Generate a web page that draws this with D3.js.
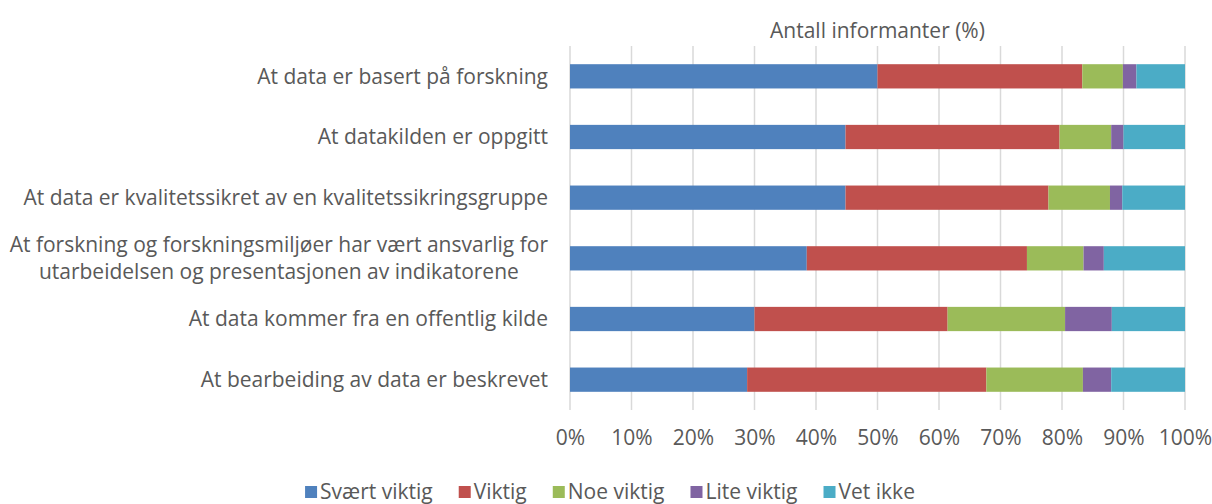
<!DOCTYPE html>
<html>
<head>
<meta charset="utf-8">
<script src="https://cdn.jsdelivr.net/npm/d3@7"></script>
<style>
  body { margin: 0; background: #fff; }
  text { font-family: "Open Sans", Lato, sans-serif; fill: #595959; }
</style>
</head>
<body>
<svg width="1212" height="504"></svg>
<script>
// data (percent of informants)
let categories = [
    "At data er basert på forskning",
    "At datakilden er oppgitt",
    "At data er kvalitetssikret av en kvalitetssikringsgruppe",
    "At forskning og forskningsmiljøer har vært ansvarlig for|utarbeidelsen og presentasjonen av indikatorene",
    "At data kommer fra en offentlig kilde",
    "At bearbeiding av data er beskrevet"
];
let seriesNames = ["Svært viktig", "Viktig", "Noe viktig", "Lite viktig", "Vet ikke"];
let svaertViktig = [50.0, 44.8, 44.8, 38.5, 30.0, 28.8];
let viktig = [33.3, 34.8, 33.0, 35.8, 31.4, 38.9];
let noeViktig = [6.6, 8.4, 10.0, 9.2, 19.1, 15.7];
let liteViktig = [2.2, 2.0, 2.0, 3.3, 7.6, 4.6];
let vetIkke = [7.9, 10.0, 10.2, 13.2, 11.9, 12.0];
let xTicks = [0, 0.1, 0.2, 0.3, 0.4, 0.5, 0.6, 0.7, 0.8, 0.9, 1];
let colors = ["#4F81BD", "#C0504D", "#9BBB59", "#8064A2", "#4BACC6"];
let chartTitle = "Antall informanter (%)";

let fontSize = "21px";
let svg = d3.select("svg");
let margin = { top: 46, left: 570, right: 27, bottom: 94 },
    width = +svg.attr("width") - margin.left - margin.right,
    height = +svg.attr("height") - margin.top - margin.bottom;

let seriesValues = [svaertViktig, viktig, noeViktig, liteViktig, vetIkke];
let rows = categories.map((c, i) => {
    let r = { cat: c };
    seriesNames.forEach((s, j) => r[s] = seriesValues[j][i]);
    return r;
});

let stacked = d3.stack()
    .keys(seriesNames)
    .offset(d3.stackOffsetExpand)(rows);

let x = d3.scaleLinear().domain([0, 1]).range([0, width]);
let y = d3.scaleBand()
    .domain(categories)
    .range([0, height])
    .paddingInner(0.6)
    .paddingOuter(0.3);

let g = svg.append("g")
    .attr("transform", "translate(" + margin.left + "," + margin.top + ")");

// gridlines
g.selectAll(".grid")
    .data(xTicks)
    .enter().append("line")
    .attr("x1", d => x(d)).attr("x2", d => x(d))
    .attr("y1", 0).attr("y2", height)
    .attr("stroke", "#D9D9D9")
    .attr("stroke-width", 1.5);

// bars
g.selectAll(".series")
    .data(stacked)
    .enter().append("g")
    .attr("fill", (d, i) => colors[i])
    .selectAll("rect")
    .data(d => d)
    .enter().append("rect")
    .attr("x", d => x(d[0]))
    .attr("width", d => x(d[1]) - x(d[0]))
    .attr("y", d => y(d.data.cat))
    .attr("height", y.bandwidth());

// x axis labels
let xAxis = g.append("g")
    .attr("transform", "translate(0," + height + ")")
    .call(d3.axisBottom(x).tickValues(xTicks).tickFormat(d3.format(".0%")).tickSize(0).tickPadding(20));
xAxis.select(".domain").remove();
xAxis.selectAll("text")
    .style("font-size", fontSize)
    .attr("fill", "#595959")
    .style("font-family", "'Open Sans', Lato, sans-serif");

// category labels
let labels = g.selectAll(".cat")
    .data(categories)
    .enter().append("text")
    .attr("class", "cat")
    .style("font-size", fontSize);

labels.each(function (d) {
    let lines = d.split("|");
    let t = d3.select(this);
    let cy = y(d) + y.bandwidth() / 2;
    if (lines.length === 1) {
        t.attr("x", -22).attr("y", cy).attr("dy", "0.35em")
            .attr("text-anchor", "end").text(d);
    } else {
        // centered block, right edge aligned with other labels
        t.attr("text-anchor", "middle");
        let spans = lines.map((l, k) => t.append("tspan").text(l));
        let w = d3.max(spans, s => s.node().getComputedTextLength());
        let cx = -22 - w / 2;
        spans.forEach((s, k) => {
            s.attr("x", cx)
             .attr("y", cy + (k - (lines.length - 1) / 2) * 27)
             .attr("dy", "0.35em");
        });
    }
});

// title
svg.append("text")
    .attr("x", margin.left + width / 2)
    .attr("y", 31)
    .attr("dy", "0.35em")
    .attr("text-anchor", "middle")
    .style("font-size", fontSize)
    .text(chartTitle);

// legend
let legend = svg.append("g");
let lx = 0;
seriesNames.forEach((s, i) => {
    let item = legend.append("g").attr("transform", "translate(" + lx + ",0)");
    item.append("rect")
        .attr("x", 0).attr("y", -6)
        .attr("width", 12).attr("height", 12)
        .attr("fill", colors[i]);
    let t = item.append("text")
        .attr("x", 15).attr("y", 0).attr("dy", "0.35em")
        .style("font-size", fontSize)
        .text(s);
    lx += 15 + t.node().getComputedTextLength() + 26;
});
let legendW = lx - 26;
legend.attr("transform", "translate(" + (610 - legendW / 2) + ",492)");
</script>
</body>
</html>
